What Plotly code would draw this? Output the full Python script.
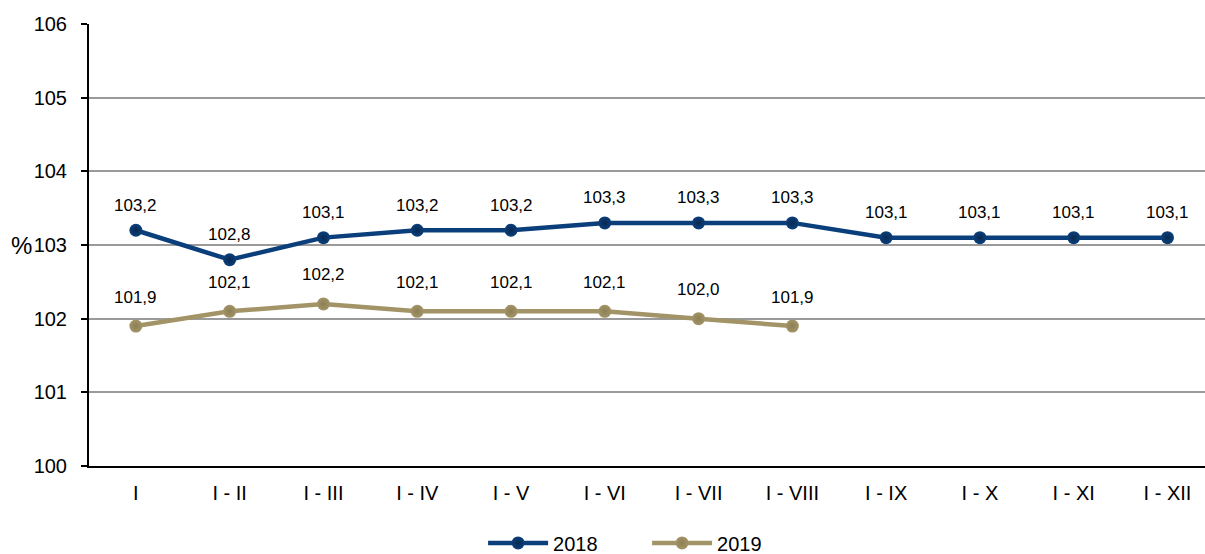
import plotly.graph_objects as go

categories = ["I", "I - II", "I - III", "I - IV", "I - V", "I - VI", "I - VII",
              "I - VIII", "I - IX", "I - X", "I - XI", "I - XII"]
values_2018 = [103.2, 102.8, 103.1, 103.2, 103.2, 103.3, 103.3, 103.3, 103.1, 103.1, 103.1, 103.1]
values_2019 = [101.9, 102.1, 102.2, 102.1, 102.1, 102.1, 102.0, 101.9]
y_ticks = [100, 101, 102, 103, 104, 105, 106]

C2018 = "#0b3f7c"
C2019 = "#a39467"
FONT = "Liberation Sans, Arial, sans-serif"

fig = go.Figure()
for name, vals, col, edge in [("2018", values_2018, C2018, "#08294f"),
                              ("2019", values_2019, C2019, "#8c7f55")]:
    fig.add_trace(go.Scatter(
        x=categories[:len(vals)], y=vals, name=name, mode="lines+markers",
        line=dict(color=col, width=4.5),
        marker=dict(color=col, size=13, gradient=dict(type="radial", color=edge)),
    ))

def fmt(v):
    return f"{v:.1f}".replace(".", ",")

for vals, shift in [(values_2018, 25), (values_2019, 29)]:
    for c, v in zip(categories, vals):
        fig.add_annotation(x=c, y=v, text=fmt(v), showarrow=False, yshift=shift,
                           font=dict(family=FONT, size=17, color="#000"))

fig.add_annotation(xref="paper", yref="y", x=0, y=103, xshift=-55, text="%",
                   showarrow=False, xanchor="right",
                   font=dict(family=FONT, size=24, color="#000"))

fig.update_layout(
    width=1205, height=554,
    margin=dict(l=89, r=0, t=24, b=88),
    paper_bgcolor="white", plot_bgcolor="white",
    font=dict(family=FONT, size=20, color="#000"),
    showlegend=True,
    legend=dict(orientation="h", xref="container", yref="container",
                x=0.537, xanchor="center", y=0.02, yanchor="middle",
                font=dict(family=FONT, size=20), itemwidth=60,
                entrywidth=89, entrywidthmode="pixels"),
    separators=",.",
)
fig.update_xaxes(
    type="category", range=[-0.5, 11.4],
    showline=True, linecolor="#000", linewidth=2,
    showgrid=False, ticks="", tickfont=dict(family=FONT, size=20),
    ticklabelstandoff=8,
)
fig.update_yaxes(
    range=[100, 106], tickvals=y_ticks,
    showline=True, linecolor="#000", linewidth=2,
    showgrid=True, gridcolor="#9a9a9a", gridwidth=1.5,
    ticks="outside", ticklen=6, tickcolor="#000", tickwidth=2,
    tickfont=dict(family=FONT, size=20), zeroline=False,
    ticklabelstandoff=10,
)

fig.write_html("out.html", config={"displayModeBar": False},
               post_script="document.body.style.margin='0';")
